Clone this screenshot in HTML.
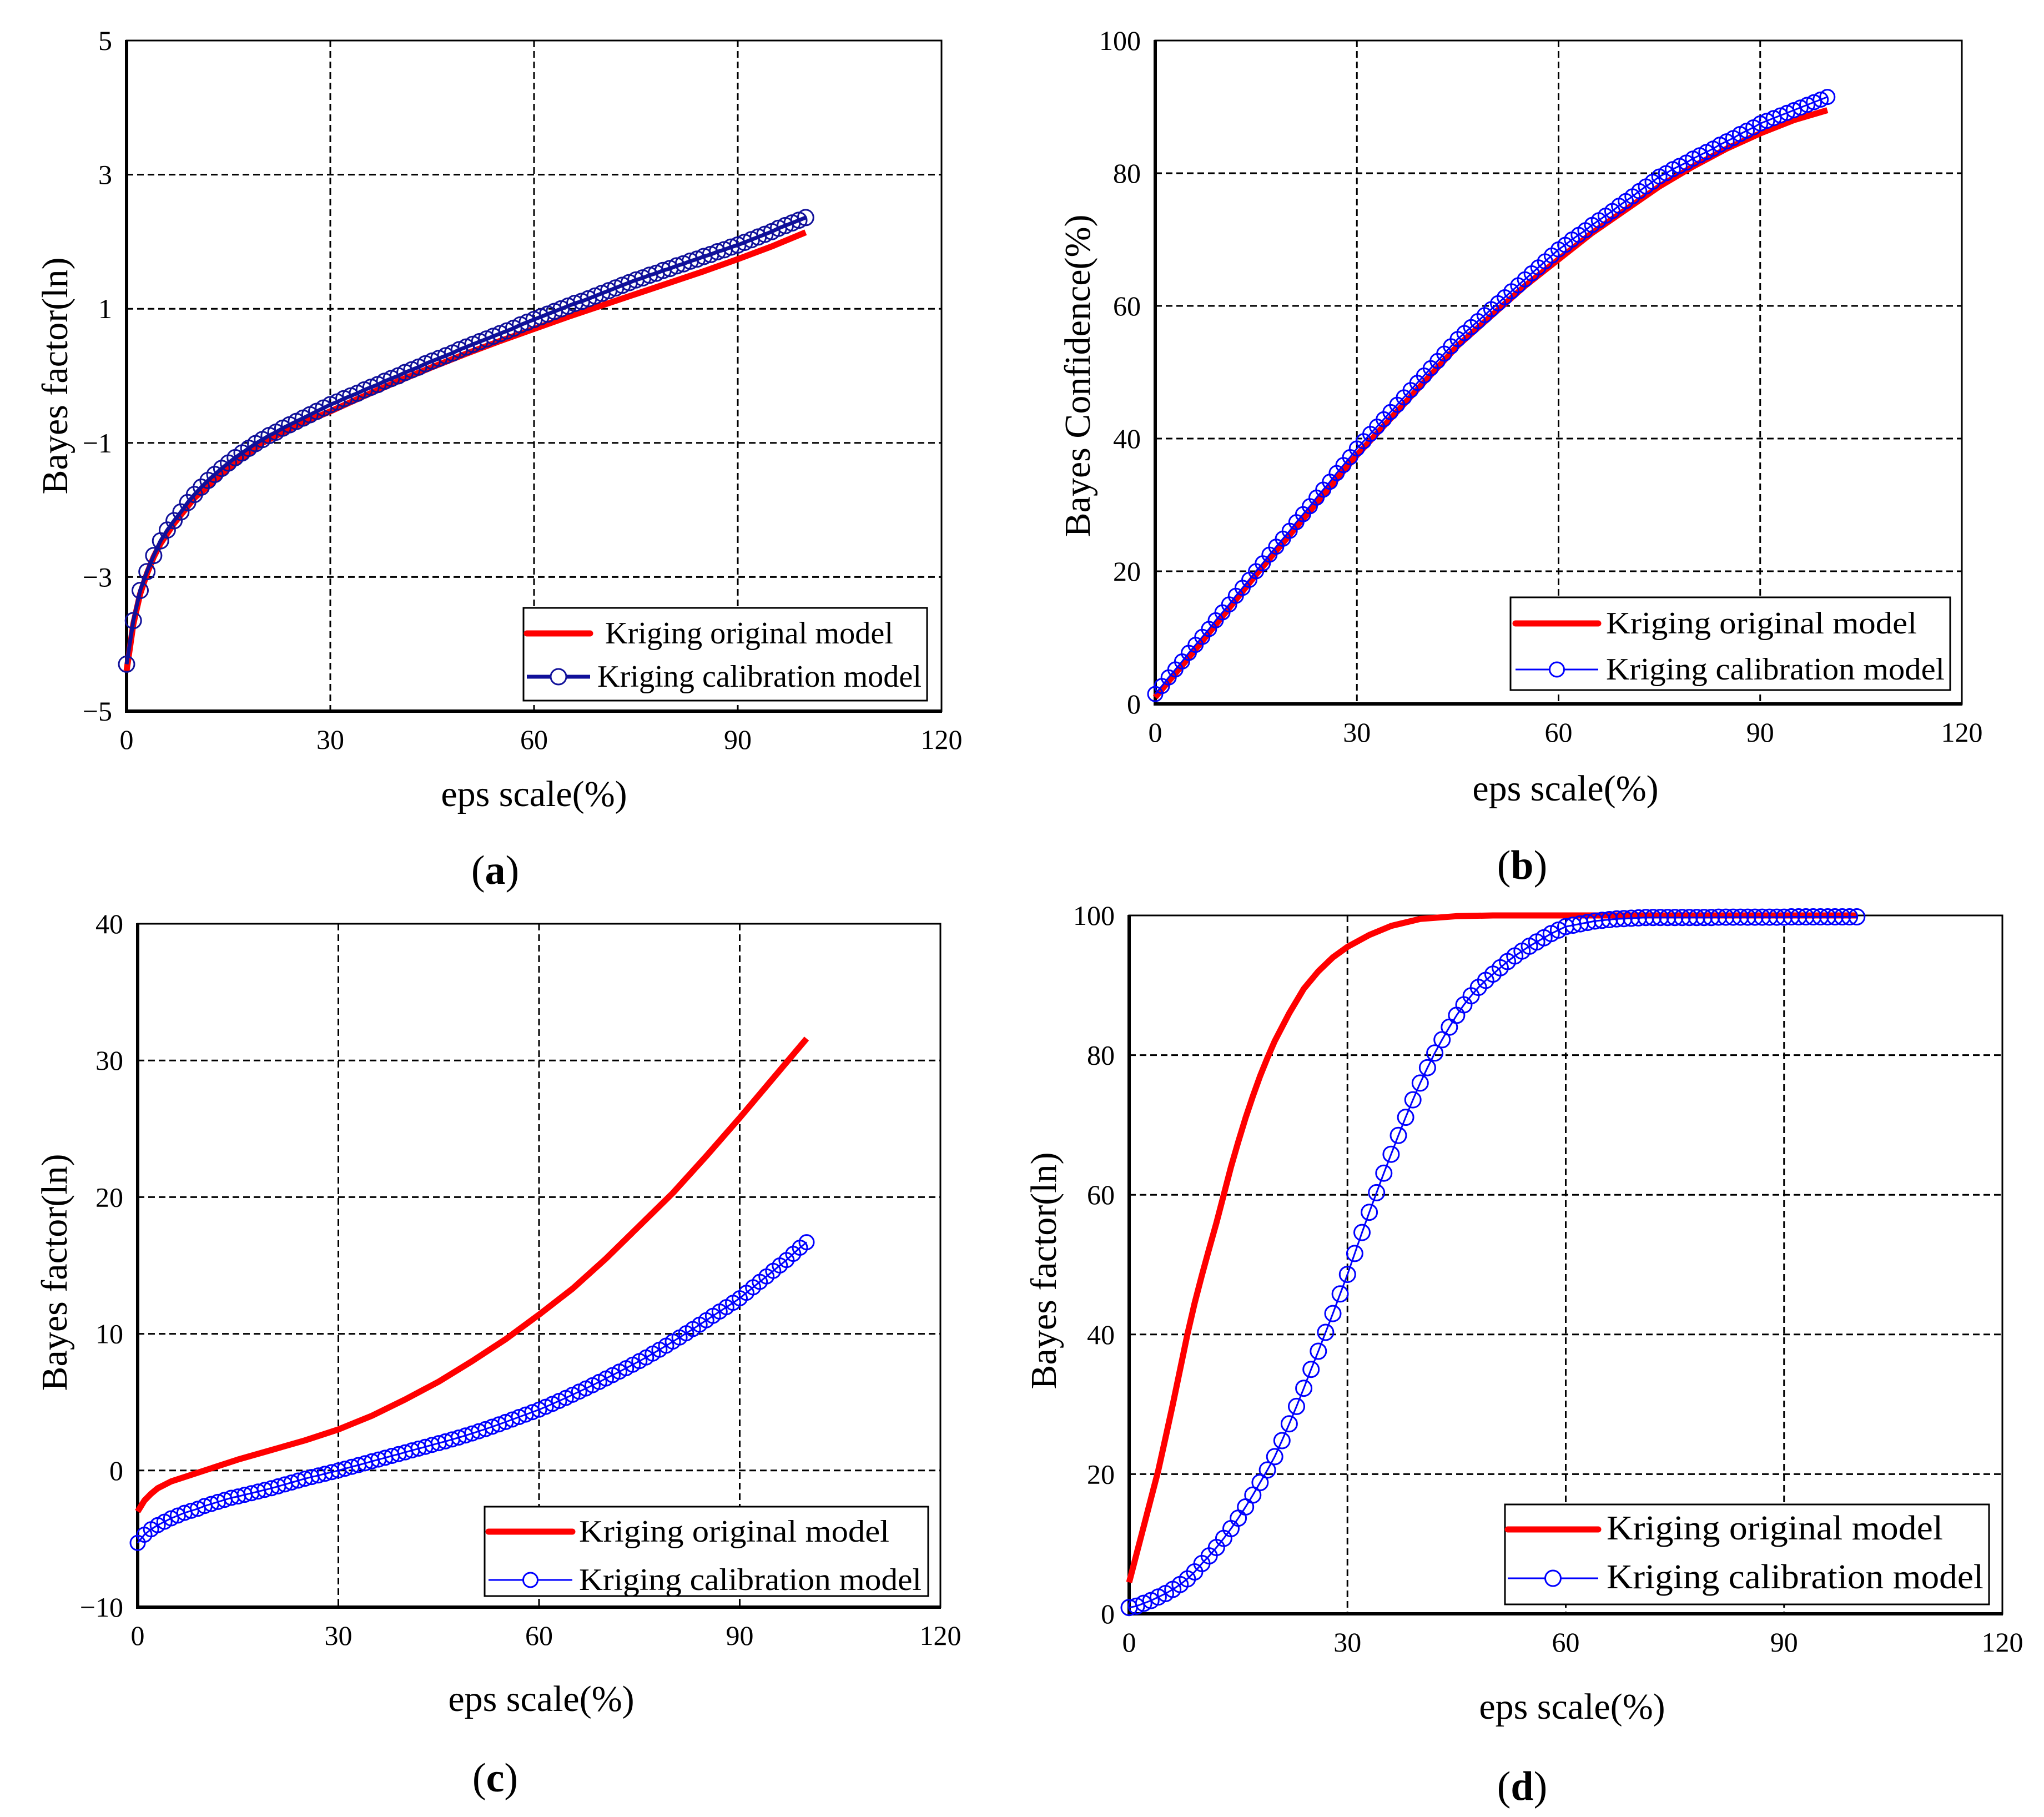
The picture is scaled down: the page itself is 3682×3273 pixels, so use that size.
<!DOCTYPE html>
<html><head><meta charset="utf-8">
<style>
html,body{margin:0;padding:0;background:#fff;}
svg{display:block;font-family:"Liberation Serif",serif;}
</style></head>
<body>
<svg id="fig" width="3682" height="3273" viewBox="0 0 3682 3273" xmlns="http://www.w3.org/2000/svg"></svg>
<script>
// ---------- data ----------
const xTicks = [0, 30, 60, 90, 120];
const yTicksA = [-5, -3, -1, 1, 3, 5];
const yTicksB = [0, 20, 40, 60, 80, 100];
const yTicksC = [-10, 0, 10, 20, 30, 40];
const yTicksD = [0, 20, 40, 60, 80, 100];
const legendLabels = ["Kriging original model", "Kriging calibration model"];

const redAx = [0,1,2,3,4,5,7,10,15,20,25,30,35,40,45,50,55,60,65,70,75,80,85,90,95,100];
const redAy = [-4.4,-3.7,-3.25,-2.95,-2.7,-2.5,-2.2,-1.82,-1.38,-1.0,-0.74,-0.53,-0.3,-0.08,0.13,0.33,0.52,0.70,0.88,1.05,1.22,1.39,1.56,1.74,1.93,2.14];
const blueAy = [-4.30,-3.65,-3.20,-2.92,-2.68,-2.46,-2.30,-2.16,-2.03,-1.89,-1.77,
-1.66,-1.56,-1.47,-1.38,-1.30,-1.22,-1.15,-1.08,-1.01,-0.95,
-0.89,-0.84,-0.78,-0.73,-0.68,-0.63,-0.58,-0.53,-0.48,-0.43,
-0.39,-0.34,-0.30,-0.26,-0.21,-0.17,-0.13,-0.08,-0.04,0.00,0.05,0.09,0.13,0.18,0.22,
0.26,0.30,0.34,0.39,0.43,0.47,0.51,0.55,0.59,0.63,0.67,0.71,0.76,0.80,0.84,
0.88,0.92,0.96,1.00,1.04,1.08,1.11,1.15,1.19,1.23,1.27,1.31,1.35,1.39,1.43,
1.46,1.50,1.53,1.57,1.60,1.64,1.67,1.71,1.74,1.78,1.81,1.85,1.88,1.92,1.95,
1.99,2.03,2.07,2.11,2.15,2.20,2.24,2.28,2.32,2.36];

const redBx = [0,5,10,15,20,25,30,35,40,45,50,55,60,65,70,75,80,85,90,95,100];
const redBy = [1,7,13.2,19.5,25.5,31.5,37.5,43,48.5,54,58.5,63,67,71,74.5,78,81,83.7,86,88,89.5];
const blueBy = [1.5,2.7,4.0,5.2,6.4,7.7,8.9,10.1,11.3,12.6,13.8,15.0,16.3,17.5,18.7,20.0,
21.2,22.5,23.7,24.9,26.1,27.4,28.6,29.8,31.1,32.3,33.5,34.8,36.0,37.2,38.5,
39.6,40.7,41.8,42.9,44.0,45.1,46.2,47.3,48.4,49.5,50.6,51.7,52.8,53.9,55.0,
55.9,56.8,57.7,58.6,59.5,60.4,61.3,62.2,63.1,64.0,64.9,65.8,66.7,67.6,68.5,
69.2,70.0,70.7,71.4,72.2,72.9,73.6,74.3,75.1,75.8,76.5,77.3,78.0,78.7,79.5,
80.0,80.6,81.1,81.6,82.2,82.7,83.2,83.7,84.3,84.8,85.3,85.9,86.4,86.9,87.5,
87.9,88.3,88.7,89.1,89.5,89.9,90.3,90.7,91.1,91.5];

const redCx = [0,1,2,3,5,10,15,20,25,30,35,40,45,50,55,60,65,70,75,80,85,90,95,100];
const redCy = [-3,-2.2,-1.7,-1.3,-0.8,0.0,0.8,1.5,2.2,3.0,4.0,5.2,6.5,8.0,9.6,11.4,13.3,15.5,17.9,20.3,23.0,25.8,28.7,31.6];
const blueCy = [-5.3,-4.7,-4.3,-4.0,-3.75,-3.5,-3.3,-3.1,-2.95,-2.8,-2.6,
-2.45,-2.3,-2.15,-2.0,-1.9,-1.78,-1.66,-1.54,-1.42,-1.3,
-1.16,-1.02,-0.88,-0.74,-0.6,-0.48,-0.36,-0.24,-0.12,0,
0.13,0.27,0.4,0.53,0.67,0.8,0.93,1.07,1.2,1.33,1.47,1.6,1.73,1.87,2.0,
2.13,2.27,2.41,2.56,2.71,2.87,3.03,3.2,3.37,3.55,3.73,3.91,4.09,4.27,4.45,
4.66,4.87,5.09,5.31,5.54,5.77,6.0,6.24,6.48,6.73,6.98,7.23,7.48,7.74,8.0,
8.27,8.55,8.84,9.13,9.43,9.73,10.04,10.35,10.67,10.99,11.31,11.63,11.95,12.27,12.6,
13.0,13.4,13.8,14.2,14.6,15.0,15.4,15.85,16.3,16.7];

const redDx = [0,1,2,3,4,5,6,7,8,9,10,11,12,13,14,15,16,17,18,19,20,22,24,26,28,30,33,36,40,45,50,60,70,80,90,100];
const redDy = [4.5,8.5,12.5,16.5,20.5,25.2,30,35,40,44.5,48.5,52.3,56,60,64,67.6,71,74.1,77,79.6,82,86,89.5,92,94,95.5,97.2,98.5,99.5,99.9,100,100,100,100,100,100];
const blueDy = [0.9,1.1,1.5,1.9,2.4,2.9,3.5,4.2,5.0,6.0,7.2,
8.3,9.5,10.8,12.2,13.7,15.3,17.0,18.8,20.6,22.5,
24.8,27.2,29.7,32.3,35.0,37.6,40.3,43.0,45.8,48.6,
51.6,54.6,57.5,60.3,63.1,65.8,68.5,71.1,73.6,76.0,
78.2,80.3,82.2,84.0,85.7,87.2,88.5,89.7,90.7,91.6,
92.5,93.4,94.2,94.9,95.6,96.2,96.8,97.4,97.9,98.4,
98.6,98.8,99.0,99.2,99.3,99.4,99.5,99.55,99.6,99.65,
99.7,99.7,99.7,99.7,99.7,99.7,99.7,99.7,99.7,99.7,
99.75,99.75,99.75,99.75,99.75,99.75,99.75,99.75,99.75,99.75,
99.8,99.8,99.8,99.8,99.8,99.8,99.8,99.8,99.8,99.8];

// ---------- drawing ----------
const NS = "http://www.w3.org/2000/svg";
const svg = document.getElementById("fig");
function mk(tag, attrs, parent) {
  const e = document.createElementNS(NS, tag);
  for (const k in attrs) e.setAttribute(k, attrs[k]);
  (parent || svg).appendChild(e);
  return e;
}

const panels = [
  {id:"a", L:228, R:1696, T:73, B:1281, ymin:-5, ymax:5, yTicks:yTicksA, redX:redAx, redY:redAy, blue:blueAy,
   blueColor:"#10109a", blueW:7, r:14, ytitle:"Bayes factor(ln)", ytx:100, yty:677, xtx:962, xty:1431, plx:892, ply:1567,
   leg:{x1:943,x2:1670,y1:1095,y2:1262, ry:1141, by:1219, lx1:949, lx2:1063, tx:1090, otw:519, ctw:584, fs:56}},
  {id:"b", L:2081, R:3534, T:73, B:1268, ymin:0, ymax:100, yTicks:yTicksB, redX:redBx, redY:redBy, blue:blueBy,
   blueColor:"#0000ff", blueW:3, r:13, ytitle:"Bayes Confidence(%)", ytx:1942, yty:677, xtx:2820, xty:1421, plx:2742, ply:1558,
   leg:{x1:2721,x2:3513,y1:1076,y2:1243, ry:1123, by:1206, lx1:2730, lx2:2879, tx:2893, otw:560, ctw:610, fs:56}},
  {id:"c", L:248, R:1694, T:1664, B:2895, ymin:-10, ymax:40, yTicks:yTicksC, redX:redCx, redY:redCy, blue:blueCy,
   blueColor:"#0000ff", blueW:3, r:13, ytitle:"Bayes factor(ln)", ytx:99, yty:2292, xtx:975, xty:3061, plx:892, ply:3202,
   leg:{x1:873,x2:1672,y1:2714,y2:2875, ry:2759, by:2846, lx1:880, lx2:1031, tx:1043, otw:559, ctw:617, fs:56}},
  {id:"d", L:2034, R:3607, T:1649, B:2907, ymin:0, ymax:100, yTicks:yTicksD, redX:redDx, redY:redDy, blue:blueDy,
   blueColor:"#0000ff", blueW:3, r:14, ytitle:"Bayes factor(ln)", ytx:1881, yty:2289, xtx:2832, xty:3075, plx:2742, ply:3217,
   leg:{x1:2711,x2:3583,y1:2710,y2:2890, ry:2755, by:2843, lx1:2716, lx2:2879, tx:2894, otw:606, ctw:679, fs:62}}
];

panels.forEach(p => {
  const g = mk("g", {});
  
  
  const xs = v => p.L + (v - 0) / 120 * (p.R - p.L);
  const ys = v => p.B - (v - p.ymin) / (p.ymax - p.ymin) * (p.B - p.T);

  const grid = mk("g", {stroke:"#000", "stroke-width":3, "stroke-dasharray":"12 7"}, g);
  
  
  xTicks.slice(1, -1).forEach(t => {
    const ln = mk("line", {x1:xs(t), x2:xs(t), y1:p.T, y2:p.B}, grid);
    
    
  });
  p.yTicks.slice(1, -1).forEach(t => {
    const ln = mk("line", {x1:p.L, x2:p.R, y1:ys(t), y2:ys(t)}, grid);
    
    
  });

  const fr = mk("rect", {x:p.L, y:p.T, width:p.R-p.L, height:p.B-p.T, fill:"none", stroke:"#000", "stroke-width":3}, g);
  
  
  const yax = mk("line", {x1:p.L, x2:p.L, y1:p.T-1, y2:p.B+3, stroke:"#000", "stroke-width":6}, g);
  
  
  const xax = mk("line", {x1:p.L-3, x2:p.R+1, y1:p.B, y2:p.B, stroke:"#000", "stroke-width":6}, g);
  
  

  xTicks.forEach(t => {
    const tx = mk("text", {x:xs(t), y:p.B + 68, "font-size":50, "text-anchor":"middle"}, g);
    tx.textContent = t;
    
    
  });
  p.yTicks.forEach(t => {
    const tx = mk("text", {x:p.L - 26, y:ys(t) + 17, "font-size":50, "text-anchor":"end"}, g);
    tx.textContent = t < 0 ? "\u2212" + Math.abs(t) : t;
    
    
  });

  const yt = mk("text", {x:p.ytx, y:p.yty, "font-size":66, "text-anchor":"middle", transform:`rotate(-90 ${p.ytx} ${p.yty})`, dy:21}, g);
  yt.textContent = p.ytitle;
  
  
  const xt = mk("text", {x:p.xtx, y:p.xty + 21, "font-size":66, "text-anchor":"middle"}, g);
  xt.textContent = "eps scale(%)";
  
  
  const pl = mk("text", {x:p.plx, y:p.ply + 25, "font-size":74, "text-anchor":"middle"}, g);
  pl.innerHTML = '(<tspan font-weight="bold">' + p.id + '</tspan>)';
  
  

  const rp = p.redX.map((x, i) => xs(x).toFixed(1) + "," + ys(p.redY[i]).toFixed(1)).join(" ");
  const red = mk("polyline", {points:rp, fill:"none", stroke:"#ff0000", "stroke-width":11, "stroke-linejoin":"round"}, g);
  
  

  const bp = p.blue.map((v, i) => xs(i).toFixed(1) + "," + ys(v).toFixed(1)).join(" ");
  const bl = mk("polyline", {points:bp, fill:"none", stroke:p.blueColor, "stroke-width":p.blueW, "stroke-linejoin":"round"}, g);
  
  
  const mg = mk("g", {fill:"none", stroke:p.blueColor, "stroke-width":3}, g);
  
  
  p.blue.forEach((v, i) => {
    const c = mk("circle", {cx:xs(i).toFixed(1), cy:ys(v).toFixed(1), r:p.r}, mg);
    
    
  });

  const L = p.leg;
  const lg = mk("g", {}, g);
  
  
  mk("rect", {x:L.x1, y:L.y1, width:L.x2-L.x1, height:L.y2-L.y1, fill:"#fff", stroke:"#000", "stroke-width":3}, lg);
  const e1 = mk("line", {x1:L.lx1, x2:L.lx2, y1:L.ry, y2:L.ry, stroke:"#ff0000", "stroke-width":11, "stroke-linecap":"round"}, lg);
  
  
  const t1 = mk("text", {x:L.tx, y:L.ry + 18, "font-size":L.fs, textLength:L.otw, lengthAdjust:"spacingAndGlyphs"}, lg);
  t1.textContent = legendLabels[0];
  
  
  const e2 = mk("line", {x1:L.lx1, x2:L.lx2, y1:L.by, y2:L.by, stroke:p.blueColor, "stroke-width":p.blueW}, lg);
  
  
  mk("circle", {cx:(L.lx1 + L.lx2) / 2, cy:L.by, r:p.r, fill:"#fff", stroke:p.blueColor, "stroke-width":3}, lg);
  const t2 = mk("text", {x:L.tx - (p.id === "a" ? 14 : 0), y:L.by + 18, "font-size":L.fs, textLength:L.ctw, lengthAdjust:"spacingAndGlyphs"}, lg);
  t2.textContent = legendLabels[1];
  
  
});
</script>
</body></html>
